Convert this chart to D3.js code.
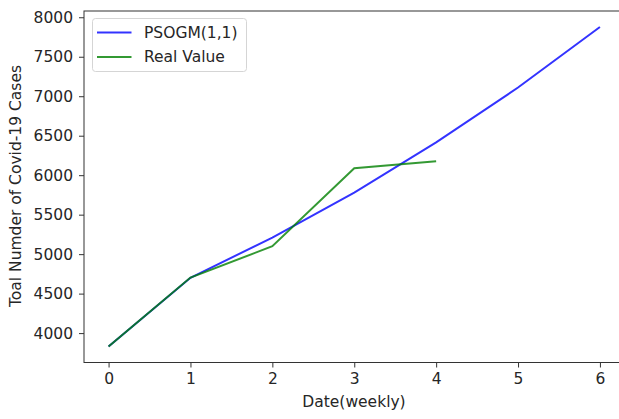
<!DOCTYPE html>
<html>
<head>
<meta charset="utf-8">
<script src="https://cdn.jsdelivr.net/npm/d3@7"></script>
<style>
  body { margin: 0; background: #fff; }
  svg { display: block; font-family: "DejaVu Sans", sans-serif; }
</style>
</head>
<body>
<svg width="619" height="419"></svg>
<script>
const weeks = [0, 1, 2, 3, 4, 5, 6];
const psogm = [3830, 4700, 5210, 5780, 6415, 7110, 7877];
const realWeeks = [0, 1, 2, 3, 4];
const realValue = [3830, 4703, 5100, 6087, 6175];
const xTicks = [0, 1, 2, 3, 4, 5, 6];
const yTicks = [4000, 4500, 5000, 5500, 6000, 6500, 7000, 7500, 8000];

const svg = d3.select("svg");
const plotLeft = 84, plotRight = 624.5, plotTop = 11, plotBottom = 362.5;
const fontSize = "15.5px";

const x = d3.scaleLinear().domain([-0.3, 6.3]).range([plotLeft, plotRight]);
const yMin = 3830, yMax = 7877, pad = (yMax - yMin) * 0.05;
const y = d3.scaleLinear().domain([yMin - pad, yMax + pad]).range([plotBottom, plotTop]);

const line = d3.line()
    .x(d => x(d[0]))
    .y(d => y(d[1]));

svg.append("path")
    .attr("d", line(d3.zip(weeks, psogm)))
    .attr("fill", "none")
    .attr("stroke", "blue")
    .attr("stroke-opacity", 0.8)
    .attr("stroke-width", 2);

svg.append("path")
    .attr("d", line(d3.zip(realWeeks, realValue)))
    .attr("fill", "none")
    .attr("stroke", "green")
    .attr("stroke-opacity", 0.8)
    .attr("stroke-width", 2);

const xAxis = svg.append("g")
    .attr("transform", `translate(0,${plotBottom})`)
    .call(d3.axisBottom(x).tickValues(xTicks).tickFormat(d3.format("d"))
        .tickSize(5).tickPadding(5));
const yAxis = svg.append("g")
    .attr("transform", `translate(${plotLeft},0)`)
    .call(d3.axisLeft(y).tickValues(yTicks).tickFormat(d3.format("d"))
        .tickSize(5).tickPadding(6));

[xAxis, yAxis].forEach(g => {
    g.select(".domain").remove();
    g.selectAll("line").attr("stroke", "#333").attr("stroke-width", 1);
    g.selectAll("text").attr("fill", "#262626").style("font-size", fontSize)
        .style("font-family", "DejaVu Sans");
});

// spines
svg.append("rect")
    .attr("x", plotLeft).attr("y", plotTop)
    .attr("width", plotRight - plotLeft).attr("height", plotBottom - plotTop)
    .attr("fill", "none").attr("stroke", "#333").attr("stroke-width", 1);

svg.append("text")
    .attr("x", 354).attr("y", 407)
    .attr("text-anchor", "middle")
    .attr("fill", "#262626").style("font-size", fontSize)
    .text("Date(weekly)");

svg.append("text")
    .attr("transform", `translate(21,186) rotate(-90)`)
    .attr("text-anchor", "middle")
    .attr("fill", "#262626").style("font-size", fontSize)
    .text("Toal Numder of Covid-19 Cases");

// legend
const legend = svg.append("g").attr("transform", "translate(92.5,18.5)");
legend.append("rect")
    .attr("width", 154).attr("height", 53).attr("rx", 3)
    .attr("fill", "#fff").attr("fill-opacity", 0.8)
    .attr("stroke", "#d5d5d5");
const entries = [["PSOGM(1,1)", "blue"], ["Real Value", "green"]];
entries.forEach(([label, color], i) => {
    const yy = 14 + i * 24.4;
    legend.append("line")
        .attr("x1", 4.5).attr("x2", 39).attr("y1", yy).attr("y2", yy)
        .attr("stroke", color).attr("stroke-opacity", 0.8).attr("stroke-width", 2);
    legend.append("text")
        .attr("x", 51.5).attr("y", yy + 5.5)
        .attr("fill", "#262626").style("font-size", fontSize)
        .text(label);
});
</script>
</body>
</html>
